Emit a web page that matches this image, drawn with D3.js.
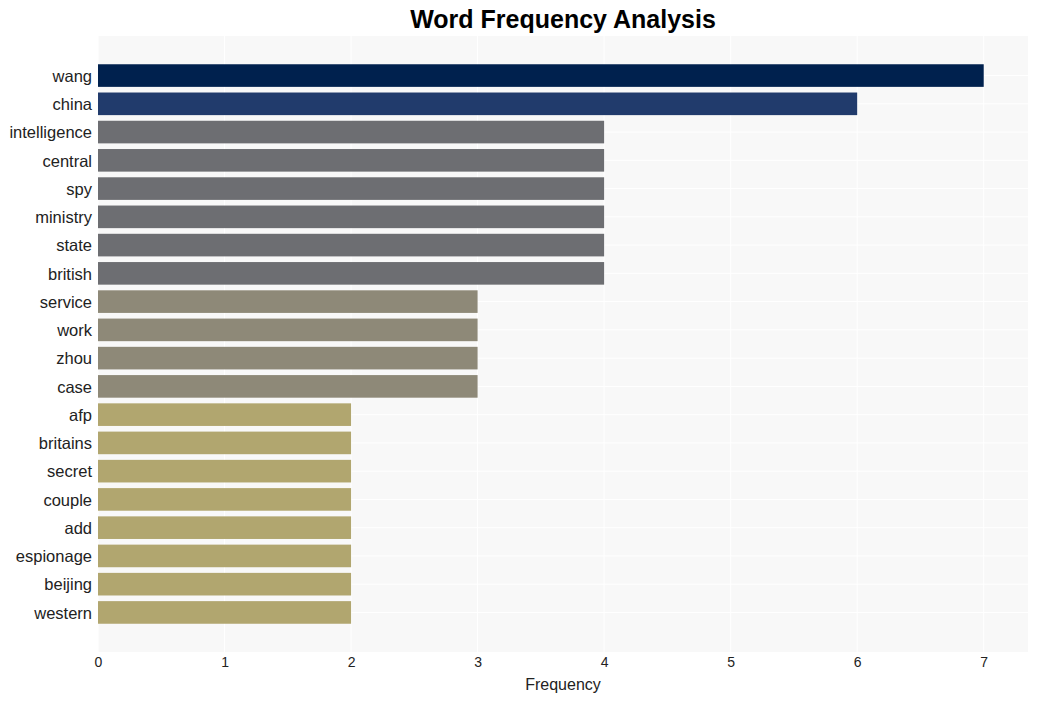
<!DOCTYPE html>
<html>
<head>
<meta charset="utf-8">
<script src="https://cdn.jsdelivr.net/npm/d3@7"></script>
<style>
  html, body { margin: 0; padding: 0; background: #ffffff; }
  svg { display: block; font-family: "Liberation Sans", Arial, Helvetica, sans-serif; }
</style>
</head>
<body>
<svg id="chart" width="1037" height="701"></svg>
<script>
const words = ["wang","china","intelligence","central","spy","ministry","state","british","service","work","zhou","case","afp","britains","secret","couple","add","espionage","beijing","western"];
const counts = [7,6,4,4,4,4,4,4,3,3,3,3,2,2,2,2,2,2,2,2];
const barColors = ["#00214e","#213b6c","#6d6e72","#6d6e72","#6d6e72","#6d6e72","#6d6e72","#6d6e72","#8e8978","#8e8978","#8e8978","#8e8978","#b1a66f","#b1a66f","#b1a66f","#b1a66f","#b1a66f","#b1a66f","#b1a66f","#b1a66f"];
const xTicks = [0,1,2,3,4,5,6,7];
const titleText = "Word Frequency Analysis";
const xLabel = "Frequency";

(function () {
const svg = d3.select("#chart");
const mLeft = 98, mRight = 1028, mTop = 36, mBottom = 652;

const x = d3.scaleLinear().domain([0, d3.max(counts) * 1.05]).range([mLeft, mRight]);
const y = d3.scaleBand().domain(words).range([mTop, mBottom]).paddingInner(0.2).paddingOuter(1.0);

svg.append("rect").attr("x", mLeft).attr("y", mTop).attr("width", mRight - mLeft).attr("height", mBottom - mTop).attr("fill", "#f8f8f8");

// vertical grid
svg.append("g").selectAll("line").data(xTicks).join("line")
  .attr("x1", d => x(d)).attr("x2", d => x(d)).attr("y1", mTop).attr("y2", mBottom)
  .attr("stroke", "#ffffff").attr("stroke-width", 1);
// horizontal grid at category centers
svg.append("g").selectAll("line").data(words).join("line")
  .attr("x1", mLeft).attr("x2", mRight)
  .attr("y1", d => y(d) + y.bandwidth() / 2).attr("y2", d => y(d) + y.bandwidth() / 2)
  .attr("stroke", "#ffffff").attr("stroke-width", 1);

// bars
svg.append("g").selectAll("rect").data(words).join("rect")
  .attr("x", x(0)).attr("y", d => y(d))
  .attr("width", (d, i) => x(counts[i]) - x(0))
  .attr("height", y.bandwidth())
  .attr("fill", (d, i) => barColors[i]);

// y axis
const yAxis = svg.append("g").attr("transform", `translate(${mLeft},1)`)
  .call(d3.axisLeft(y).tickSize(0).tickPadding(6));
yAxis.select(".domain").remove();
yAxis.selectAll("text").attr("font-size", 16.5).attr("fill", "#222222").style("font-family", "Liberation Sans, Arial, sans-serif");

// x axis
const xAxis = svg.append("g").attr("transform", `translate(0,${mBottom})`)
  .call(d3.axisBottom(x).tickValues(xTicks).tickFormat(d3.format("d")).tickSize(0).tickPadding(5));
xAxis.select(".domain").remove();
xAxis.selectAll("text").attr("font-size", 14).attr("fill", "#222222").style("font-family", "Liberation Sans, Arial, sans-serif");

svg.append("text").attr("x", (mLeft + mRight) / 2).attr("y", 690)
  .attr("text-anchor", "middle").attr("font-size", 16).attr("fill", "#222222").text(xLabel);

svg.append("text").attr("x", (mLeft + mRight) / 2).attr("y", 28)
  .attr("text-anchor", "middle").attr("font-size", 25).attr("font-weight", "bold").attr("fill", "#000000").text(titleText);
})();
</script>
</body>
</html>
